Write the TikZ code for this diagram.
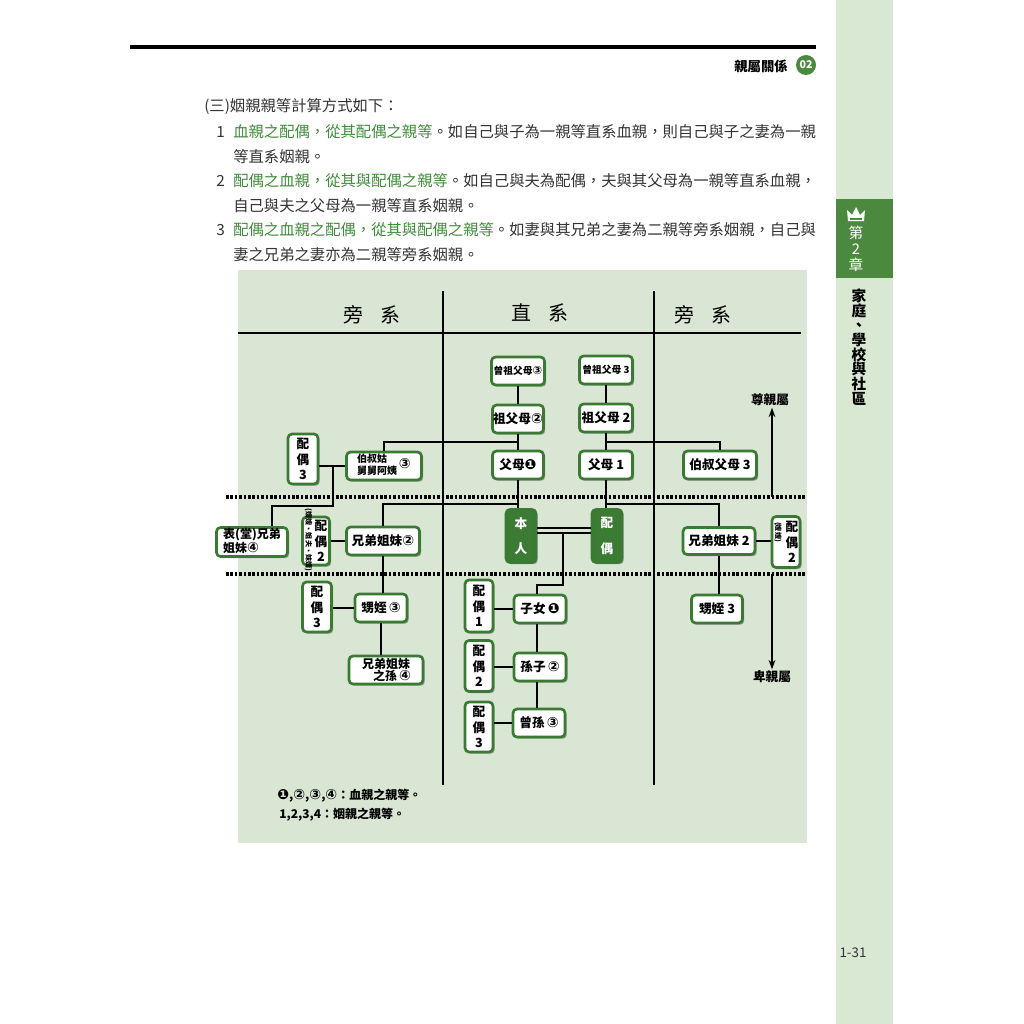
\documentclass[tikz,border=0pt]{standalone}
\usepackage{fontspec}
\usetikzlibrary{shadows,arrows.meta,calc}
\setmainfont{Noto Sans CJK TC}
\newfontfamily\cjk{Noto Sans CJK TC}
\newfontfamily\djv{DejaVu Sans}
\definecolor{bggreen}{HTML}{D8E6D3}
\definecolor{sidegreen}{HTML}{D9E8D3}
\definecolor{tabgreen}{HTML}{4B8A3E}
\definecolor{boxgreen}{HTML}{3A7A32}
\definecolor{darkbox}{HTML}{3B7B33}
\definecolor{txtgreen}{HTML}{3E8C38}
\definecolor{txtgray}{HTML}{333333}
\newcommand\cI{{\djv\fontsize{10.5}{10}\selectfont ❶}}
\newcommand\cII{{\djv\fontsize{10.5}{10}\selectfont ②}}
\newcommand\cIII{{\djv\fontsize{10.5}{10}\selectfont ③}}
\newcommand\cIV{{\djv\fontsize{10.5}{10}\selectfont ④}}
\newcommand\cIIIs{{\djv\fontsize{8.5}{8}\selectfont ③}}
\newcommand\lbl{\cjk\bfseries\fontsize{9.5}{11.5}\selectfont}
\newcommand\ptx{\cjk\fontsize{11.5}{14}\selectfont\color{txtgray}}
\newcommand\grn[1]{\textcolor{txtgreen}{#1}}
\begin{document}
\begin{tikzpicture}[x=0.75pt,y=-0.75pt,
  bx/.style={draw=boxgreen, line width=2pt, rounded corners=3pt, fill=white,
    inner sep=0pt, align=center, font=\lbl,
    drop shadow={shadow xshift=1.3pt, shadow yshift=-1.3pt, fill=black!40, opacity=1}},
  dk/.style={bx, fill=darkbox, text=white},
  sz/.style 2 args={minimum width=#1*0.75pt, minimum height=#2*0.75pt},
  ln/.style={line width=1pt, black},
  grid/.style={line width=1.8pt, black},
  dots/.style={line width=2.4pt, black, dash pattern=on 2pt off 1.3pt},
  ptxt/.style={anchor=west, inner sep=0pt, font=\ptx},
  vtxt/.style={font=\lbl, align=center, inner sep=0pt},
  rtxt/.style={font=\cjk\bfseries\fontsize{5.3}{5.3}\selectfont, rotate=-90, inner sep=0pt},
]
\useasboundingbox (0,0) rectangle (1024,1024);
\fill[white] (0,0) rectangle (1024,1024);
% sidebar
\fill[sidegreen] (836,0) rectangle (893,1024);
\fill[tabgreen] (836,199) rectangle (893,278);
\fill[white] (848,221) -- (847,210) -- (852,215) -- (856,207) -- (860,215) -- (865,210) -- (864,221) -- cycle;
\fill[tabgreen] (850,218) rectangle (862,219.5);
\node[text=white, font=\cjk\fontsize{11}{12}\selectfont, align=center, inner sep=0] (tab) at (856,249) {第\\2\\章};
\node[font=\cjk\bfseries\fontsize{11}{11}\selectfont, align=center, inner sep=0] (side) at (859,347) {家\\庭\\、\\學\\校\\與\\社\\區};
\node[font=\cjk\fontsize{10}{10}\selectfont, text=txtgray] (pg) at (853,953) {1-31};
% header
\fill[black] (130,45) rectangle (816,49);
\node[font=\cjk\bfseries\fontsize{10}{10}\selectfont, inner sep=0] (hd) at (761,66) {親屬關係};
\node[circle, fill=tabgreen, text=white, minimum size=15pt, inner sep=0pt, font=\cjk\bfseries\fontsize{8}{8}\selectfont] (hn) at (806,65) {02};
% paragraph
\node[ptxt] (t0) at (204,107) {(三)姻親親等計算方式如下：};
\node[ptxt] (n1) at (216,132) {1};
\node[ptxt] (t1) at (233,132) {\grn{血親之配偶，從其配偶之親等}。如自己與子為一親等直系血親，則自己與子之妻為一親};
\node[ptxt] (t1b) at (233,157) {等直系姻親。};
\node[ptxt] (n2) at (216,181) {2};
\node[ptxt] (t2) at (233,181) {\grn{配偶之血親，從其與配偶之親等}。如自己與夫為配偶，夫與其父母為一親等直系血親，};
\node[ptxt] (t2b) at (233,206) {自己與夫之父母為一親等直系姻親。};
\node[ptxt] (n3) at (216,230) {3};
\node[ptxt] (t3) at (233,230) {\grn{配偶之血親之配偶，從其與配偶之親等}。如妻與其兄弟之妻為二親等旁系姻親，自己與};
\node[ptxt] (t3b) at (233,255) {妻之兄弟之妻亦為二親等旁系姻親。};
% diagram background
\fill[bggreen] (238,270) rectangle (807,843);
\node[font=\cjk\fontsize{15}{15}\selectfont] (h1) at (372,315) {旁\hspace{0.9em}系};
\node[font=\cjk\fontsize{15}{15}\selectfont] (h2) at (540,313) {直\hspace{0.9em}系};
\node[font=\cjk\fontsize{15}{15}\selectfont] (h3) at (703,315) {旁\hspace{0.9em}系};
\draw[grid] (238,333) -- (801,333);
\draw[grid] (443,291) -- (443,785);
\draw[grid] (654,291) -- (654,785);
\draw[dots] (226,497) -- (806,497);
\draw[dots] (226,574) -- (806,574);
% nodes
\node[bx, sz={53}{28}, font=\cjk\bfseries\fontsize{7.3}{8}\selectfont] (gg1) at (518,371) {曾祖父母\cIIIs};
\node[bx, sz={53}{28}, font=\cjk\bfseries\fontsize{7.3}{8}\selectfont] (gg2) at (606,370) {曾祖父母 3};
\node[bx, sz={51}{28}] (g1) at (518,419) {祖父母\cII};
\node[bx, sz={53}{28}] (g2) at (606,418) {祖父母 2};
\node[bx, sz={51}{28}] (p1) at (518,465) {父母\cI};
\node[bx, sz={53}{28}] (p2) at (606,465) {父母 1};
\node[bx, sz={73}{28}] (ua) at (720,465) {伯叔父母 3};
\node[bx, sz={75}{28}, font=\cjk\bfseries\fontsize{7.5}{8.5}\selectfont] (ul) at (384,466) {\begin{tabular}{@{}l@{}}伯叔姑\\舅舅阿姨\end{tabular}\,\cIII};
\node[bx, sz={30}{50}] (su1) at (303,459) {配\\偶\\3};
\node[dk, sz={30}{53}, font=\cjk\bfseries\fontsize{9.5}{19}\selectfont] (me) at (521,536) {本\\人};
\node[dk, sz={30}{53}, font=\cjk\bfseries\fontsize{9.5}{19}\selectfont] (sp) at (607,536) {配\\偶};
\node[bx, sz={71}{29}, font=\cjk\bfseries\fontsize{9}{9.5}\selectfont] (cz) at (252,542) {\begin{tabular}{@{}l@{}}表(堂)兄弟\\姐妹\cIV\end{tabular}};
\node[bx, sz={27}{48}] (sb1) at (316,541) {};
\node[vtxt] (sb1l) at (321,541) {配\\偶\\2};
\node[rtxt] (sb1t) at (308.5,540) {(嫂嫂、姐夫、妹婿)};
\node[bx, sz={73}{28}] (sib1) at (383,541) {兄弟姐妹\cII};
\node[bx, sz={72}{27}] (sib2) at (719,541) {兄弟姐妹 2};
\node[bx, sz={28}{51}] (sb2) at (786,542) {};
\node[vtxt] (sb2l) at (792,542) {配\\偶\\2};
\node[rtxt] (sb2t) at (778,532) {(嫂嫂)};
\node[bx, sz={29}{50}] (sn1) at (317,607) {配\\偶\\3};
\node[bx, sz={52}{28}] (nep1) at (381,608) {甥姪\,\cIII};
\node[bx, sz={74}{28}, font=\cjk\bfseries\fontsize{9}{9.5}\selectfont] (gnep) at (386,670) {兄弟姐妹\\\hspace{1em}之孫\,\cIV};
\node[bx, sz={51}{28}] (nep2) at (717,609) {甥姪 3};
\node[bx, sz={28}{52}] (c1s) at (479,606) {配\\偶\\1};
\node[bx, sz={52}{28}] (ch) at (540,609) {子女\,\cI};
\node[bx, sz={28}{51}] (c2s) at (479,666) {配\\偶\\2};
\node[bx, sz={52}{28}] (gc) at (540,667) {孫子\,\cII};
\node[bx, sz={28}{50}] (c3s) at (479,727) {配\\偶\\3};
\node[bx, sz={52}{28}] (ggc) at (539,723) {曾孫\,\cIII};
\node[font=\cjk\bfseries\fontsize{9.5}{10}\selectfont, inner sep=1pt] (zsq) at (770,400) {尊親屬};
\node[font=\cjk\bfseries\fontsize{9.5}{10}\selectfont, inner sep=1pt] (bsq) at (772,677) {卑親屬};
% connectors
\coordinate (L1) at (0,442);
\coordinate (L2) at (0,504);
\coordinate (d1) at (0,528);
\coordinate (d2) at (0,533);
\draw[ln] (gg1.south) -- (g1.north);
\draw[ln] (g1.south) -- (p1.north);
\draw[ln] (p1.south) -- (p1.south |- me.north);
\draw[ln] (gg2.south) -- (g2.north);
\draw[ln] (g2.south) -- (p2.north);
\draw[ln] (p2.south) -- (p2.south |- sp.north);
\draw[ln] (ul.north) |- (g1.south |- L1);
\draw[ln] (ua.north) |- (g2.south |- L1);
\draw[ln] (sib1.north) |- (p1.south |- L2);
\draw[ln] (sib2.north) |- (p2.south |- L2);
\draw[ln] (su1.east |- ul.west) -- (ul.west);
\coordinate (cj) at (333,466);
\coordinate (cb) at (333,506);
\coordinate (ctop) at ($(cz.north)+(20,0)$);
\draw[ln] (cj) -- (cb) -| (ctop);
\draw[ln] (sb1.east |- sib1.west) -- (sib1.west);
\draw[ln] (sib1.south) -- (sib1.south |- nep1.north);
\draw[ln] (sn1.east |- nep1.west) -- (nep1.west);
\draw[ln] (nep1.south) -- (nep1.south |- gnep.north);
\draw[ln] (sib2.east) -- (sb2.west |- sib2.east);
\draw[ln] (sib2.south) -- (sib2.south |- nep2.north);
\draw[ln] (me.east |- d1) -- (sp.west |- d1);
\draw[ln] (me.east |- d2) -- (sp.west |- d2);
\coordinate (m1) at (563,533);
\coordinate (m2) at (563,585);
\coordinate (m3) at (537,585);
\draw[ln] (m1) -- (m2) -- (m3) -- (m3 |- ch.north);
\draw[ln] (c1s.east |- ch.west) -- (ch.west);
\draw[ln] (m3 |- ch.south) -- (m3 |- gc.north);
\draw[ln] (c2s.east |- gc.west) -- (gc.west);
\draw[ln] (m3 |- gc.south) -- (m3 |- ggc.north);
\draw[ln] (c3s.east |- ggc.west) -- (ggc.west);
\coordinate (a0) at (772,497);
\coordinate (b0) at (772,574);
\draw[line width=1.6pt, -{Stealth[length=7pt,width=5pt]}] (a0) -- (zsq.south -| a0);
\draw[line width=1.6pt, -{Stealth[length=7pt,width=5pt]}] (b0) -- (bsq.north -| b0);
% legend
\node[anchor=west, inner sep=0, font=\cjk\bfseries\fontsize{9}{10}\selectfont] (lg1) at (277,796) {\cI,\cII,\cIII,\cIV：血親之親等。};
\node[anchor=west, inner sep=0, font=\cjk\bfseries\fontsize{9}{10}\selectfont] (lg2) at (279,815) {1,2,3,4：姻親之親等。};
\end{tikzpicture}
\end{document}
